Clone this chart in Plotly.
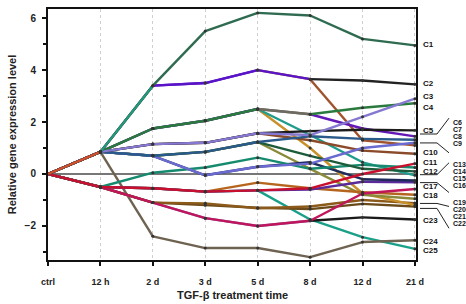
import plotly.graph_objects as go

categories = ["ctrl", "12 h", "2 d", "3 d", "5 d", "8 d", "12 d", "21 d"]

C1 = [0, 0.85, 3.4, 5.5, 6.2, 6.1, 5.2, 4.95]
C2 = [0, 0.85, 3.4, 3.5, 4.0, 3.65, 3.6, 3.45]
C3 = [0, 0.85, 1.15, 1.2, 1.57, 1.5, 2.2, 2.9]
C4 = [0, 0.85, 1.75, 2.05, 2.5, 2.3, 2.55, 2.72]
C5 = [0, 0.85, 1.15, 1.2, 1.57, 1.65, 1.7, 1.68]
C6 = [0, 0.85, 1.75, 2.05, 2.5, 2.3, 1.75, 1.45]
C7 = [0, 0.85, 0.7, 0.85, 1.23, 1.45, 1.35, 1.32]
C8 = [0, 0.85, 0.7, -0.05, 0.28, 0.4, 1.0, 1.2]
C9 = [0, 0.85, 3.4, 3.5, 4.0, 3.65, 1.3, 1.1]
C10 = [0, 0.85, 1.15, 1.2, 1.57, 1.3, 0.9, 0.78]
C11 = [0, -0.5, -0.55, -0.68, -0.63, -0.55, 0.0, 0.4]
C12 = [0, 0.85, 0.7, 0.85, 1.23, 0.7, 0.2, 0.1]
C13 = [0, -0.5, 0.05, 0.25, 0.63, 0.2, 0.35, 0.25]
C14 = [0, 0.85, 1.75, 2.05, 2.5, 1.5, 0.45, -0.05]
C15 = [0, 0.85, 0.7, -0.05, 0.28, 0.45, -0.2, -0.25]
C16 = [0, -0.5, -0.55, -0.68, -0.63, -0.6, -0.3, -0.32]
C17 = [0, -0.5, -1.1, -1.7, -2.0, -1.8, -0.75, -0.58]
C18 = [0, -0.5, -0.55, -0.68, -0.33, -0.55, -0.7, -0.8]
C19 = [0, 0.85, 0.7, 0.85, 1.23, 0.2, -0.8, -0.95]
C20 = [0, 0.85, 1.75, 2.05, 2.5, 1.0, -0.75, -1.2]
C21 = [0, -0.5, -1.1, -1.13, -1.32, -1.25, -1.0, -1.12]
C22 = [0, -0.5, -1.1, -1.2, -1.3, -1.35, -1.15, -1.25]
C23 = [0, -0.5, -1.1, -1.7, -2.0, -1.8, -1.67, -1.75]
C24 = [0, 0.85, -2.4, -2.85, -2.85, -3.2, -2.62, -2.55]
C25 = [0, -0.5, -0.55, -0.68, -0.63, -1.75, -2.43, -2.88]

names = ["C%d" % i for i in range(1, 26)]
series = {n: globals()[n] for n in names}

colors = {
    "C1": "#2e6b50", "C2": "#222222", "C3": "#8478d0", "C4": "#2a7a3e",
    "C5": "#1c1c1c", "C6": "#6418b8", "C7": "#2a5a8a", "C8": "#6a6ad0",
    "C9": "#a0522d", "C10": "#8b4a2a", "C11": "#c8102e", "C12": "#1d5c3a",
    "C13": "#168a6e", "C14": "#1f9c8c", "C15": "#1e2a5a", "C16": "#5a2a9a",
    "C17": "#c0155a", "C18": "#b5651d", "C19": "#8a8a3a", "C20": "#c8902a",
    "C21": "#8b5a1a", "C22": "#6b4a1a", "C23": "#1a1a1a", "C24": "#6e6250",
    "C25": "#1aa088",
}
seg_override = {
    "C1": {0: "#d0502a", 1: "#1f9a80"},
    "C2": {2: "#5a14c8", 3: "#5a14c8", 4: "#5a14c8"},
    "C9": {2: "#5a14c8", 3: "#5a14c8"},
    "C23": {0: "#7a7a70", 1: "#7b74c8", 2: "#7b74c8", 3: "#7b74c8", 4: "#7b74c8"},
    "C24": {0: "#7a7a70"},
    "C25": {0: "#7a7a70"},
    "C4": {4: "#6e6a60"},
    "C6": {4: "#6e6a60"},
}

xs = list(range(len(categories)))
fig = go.Figure()
draw_order = list(reversed(names))
for n in draw_order:
    vals = series[n]
    for i in range(len(xs) - 1):
        c = seg_override.get(n, {}).get(i, colors[n])
        fig.add_trace(go.Scatter(
            x=xs[i:i + 2], y=vals[i:i + 2], mode="lines",
            line=dict(color=c, width=2.4), showlegend=False, hoverinfo="skip"))
for n in draw_order:
    fig.add_trace(go.Scatter(x=xs[1:], y=series[n][1:], mode="markers",
                             marker=dict(size=3, color="#333333"),
                             showlegend=False, hoverinfo="skip"))

font_fam = "Liberation Sans, Arial, sans-serif"
L, R, T, B = 48, 416, 7, 260


def pxx(xp):
    return (xp - L) / (R - L)


def pxy(yp):
    return (B - yp) / (B - T)


label_y = {"C1": 4.97, "C2": 3.49, "C3": 2.99, "C4": 2.57, "C5": 1.68,
           "C10": 0.81, "C11": 0.43, "C12": 0.09, "C17": -0.48, "C18": -0.82,
           "C23": -1.78, "C24": -2.58, "C25": -2.93}
group_y = {"C6": 2.0, "C7": 1.73, "C8": 1.46, "C9": 1.19,
           "C13": 0.355, "C14": 0.088, "C15": -0.18, "C16": -0.45,
           "C19": -1.1, "C20": -1.36, "C21": -1.63, "C22": -1.9}
ann = []
for n, y in label_y.items():
    ann.append(dict(x=pxx(421), xref="paper", y=y, yref="y", text=n, showarrow=False,
                    xanchor="left", font=dict(size=8, family=font_fam, color="#111", weight="bold")))
for n, y in group_y.items():
    ann.append(dict(x=pxx(451), xref="paper", y=y, yref="y", text=n, showarrow=False,
                    xanchor="left", font=dict(size=7, family=font_fam, color="#111", weight="bold")))
ann.append(dict(x=0.5, xref="paper", y=pxy(295), yref="paper", text="TGF-β treatment time",
                showarrow=False, xanchor="center", yanchor="middle",
                font=dict(size=11, family=font_fam, color="#222", weight="bold")))

leaders = [
    [(420, 133), (437, 133), (449, 117)],
    [(420, 142), (437, 142), (449, 152)],
    [(420, 174), (437, 174), (449, 162)],
    [(420, 182), (437, 182), (449, 192)],
    [(420, 203), (437, 203), (449, 206)],
    [(420, 208), (437, 208), (449, 228)],
]
shapes = []
for pts in leaders:
    path = "M %f %f L %f %f L %f %f" % (pxx(pts[0][0]), pxy(pts[0][1]), pxx(pts[1][0]), pxy(pts[1][1]),
                                        pxx(pts[2][0]), pxy(pts[2][1]))
    shapes.append(dict(type="path", path=path, xref="paper", yref="paper",
                       line=dict(color="#222", width=1)))

fig.update_layout(
    width=466, height=304,
    margin=dict(l=L, r=466 - R, t=T, b=304 - B),
    plot_bgcolor="white", paper_bgcolor="white",
    annotations=ann, shapes=shapes,
    xaxis=dict(range=[0, 7.02], tickvals=xs, ticktext=categories,
               showgrid=True, gridcolor="#cfcfcf", griddash="dot", gridwidth=1,
               showline=True, mirror=True, linecolor="#111", linewidth=2,
               ticks="outside", ticklen=4, tickcolor="#111", tickwidth=1.5,
               ticklabelstandoff=8, zeroline=False,
               tickfont=dict(size=9, family=font_fam, color="#222", weight="bold")),
    yaxis=dict(range=[-3.31, 6.35], tickvals=[-2, 0, 2, 4, 6],
               showgrid=False, showline=True, mirror=True, linecolor="#111", linewidth=2,
               ticks="outside", ticklen=4, tickcolor="#111", tickwidth=1.5,
               minor=dict(tickvals=[-3, -1, 1, 3, 5], ticks="outside", ticklen=3, tickcolor="#111"),
               zeroline=True, zerolinecolor="#777", zerolinewidth=1.5,
               ticklabelstandoff=4,
               tickfont=dict(size=10, family=font_fam, color="#222", weight="bold"),
               title=dict(text="Relative gene expression level", standoff=6,
                          font=dict(size=11, family=font_fam, color="#222", weight="bold"))),
)
fig.write_html("out.html", config={"displayModeBar": False},
               post_script="document.body.style.margin='0';document.body.style.overflow='hidden';")
